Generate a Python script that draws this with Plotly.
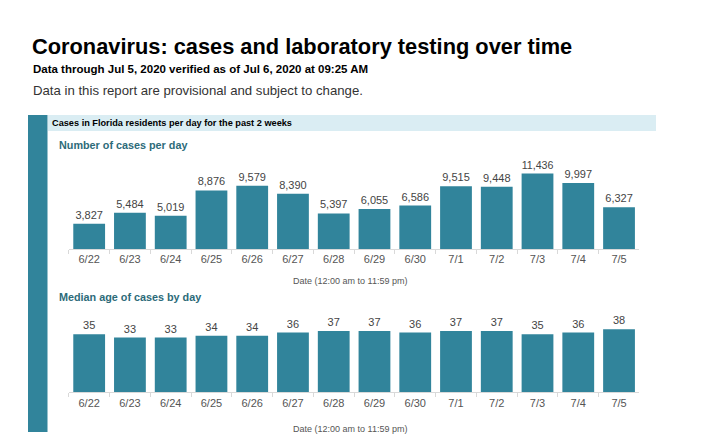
import plotly.graph_objects as go

dates = ["6/22", "6/23", "6/24", "6/25", "6/26", "6/27", "6/28", "6/29", "6/30",
         "7/1", "7/2", "7/3", "7/4", "7/5"]
cases_per_day = [3827, 5484, 5019, 8876, 9579, 8390, 5397, 6055, 6586,
                 9515, 9448, 11436, 9997, 6327]
median_age = [35, 33, 33, 34, 34, 36, 37, 37, 36, 37, 37, 35, 36, 38]

W, H = 701, 436
TEAL = "#31849b"
HEAD = "#2d6b79"
BAND = "#daedf3"
SANS = "Liberation Sans, Arial, sans-serif"


def px(x):
    return x / W


def py(y):
    return 1 - y / H


fig = go.Figure()
fig.add_trace(go.Bar(
    x=dates, y=cases_per_day, marker_color=TEAL, marker_line_width=0,
    text=[f"{v:,}" for v in cases_per_day], textposition="outside",
    textfont=dict(family=SANS, size=11, color="#444444"),
    cliponaxis=False, xaxis="x", yaxis="y", hoverinfo="x+y",
))
fig.add_trace(go.Bar(
    x=dates, y=median_age, marker_color=TEAL, marker_line_width=0,
    text=[str(v) for v in median_age], textposition="outside",
    textfont=dict(family=SANS, size=11, color="#444444"),
    cliponaxis=False, xaxis="x2", yaxis="y2", hoverinfo="x+y",
))

xdom = [px(68.8), px(639.4)]
xcommon = dict(
    type="category", domain=xdom, range=[-0.5, 13.5],
    showline=True, linecolor="#d9d9d9", linewidth=1,
    ticks="outside", tickson="boundaries", ticklen=4, tickcolor="#d9d9d9",
    tickfont=dict(family=SANS, size=11, color="#555555"),
    showgrid=False, zeroline=False, fixedrange=True,
)
fig.update_layout(
    width=W, height=H,
    margin=dict(l=0, r=0, t=0, b=0),
    paper_bgcolor="white", plot_bgcolor="white",
    showlegend=False, bargap=0.22,
    xaxis=dict(**xcommon, anchor="y"),
    xaxis2=dict(**xcommon, anchor="y2"),
    yaxis=dict(domain=[py(249), py(169.8)], range=[0, 12000], visible=False, fixedrange=True),
    yaxis2=dict(domain=[py(392.3), py(317.6)], range=[0, 45], visible=False, fixedrange=True),
)

shapes = [
    dict(type="rect", xref="paper", yref="paper", x0=px(48), x1=px(656),
         y0=py(131), y1=py(115), fillcolor=BAND, line_width=0, layer="below"),
    dict(type="rect", xref="paper", yref="paper", x0=px(28), x1=px(47.5),
         y0=py(432), y1=py(115), fillcolor=TEAL, line_width=0, layer="below"),
]
fig.update_layout(shapes=shapes)


def ann(text, x, y, size, color="#000000", family=SANS, xanchor="left"):
    fig.add_annotation(text=text, x=px(x), y=py(y), xref="paper", yref="paper",
                       xanchor=xanchor, yanchor="middle", showarrow=False,
                       font=dict(family=family, size=size, color=color))


ann("<b>Coronavirus: cases and laboratory testing over time</b>", 30, 46, 21.8)
ann("<b>Data through Jul 5, 2020 verified as of Jul 6, 2020 at 09:25 AM</b>", 31, 69, 11.5)
ann("Data in this report are provisional and subject to change.", 31, 90, 13.2, color="#333333")
ann("<b>Cases in Florida residents per day for the past 2 weeks</b>", 50, 123, 9.2)
ann("<b>Number of cases per day</b>", 57, 145, 10.8, color=HEAD)
ann("<b>Median age of cases by day</b>", 57, 297, 10.8, color=HEAD)
ann("Date (12:00 am to 11:59 pm)", 350, 281, 9, color="#555555", xanchor="center")
ann("Date (12:00 am to 11:59 pm)", 350, 429, 9, color="#555555", xanchor="center")

fig.write_html("out.html", config={"displayModeBar": False},
               post_script="document.body.style.margin='0';document.body.style.overflow='hidden';")
